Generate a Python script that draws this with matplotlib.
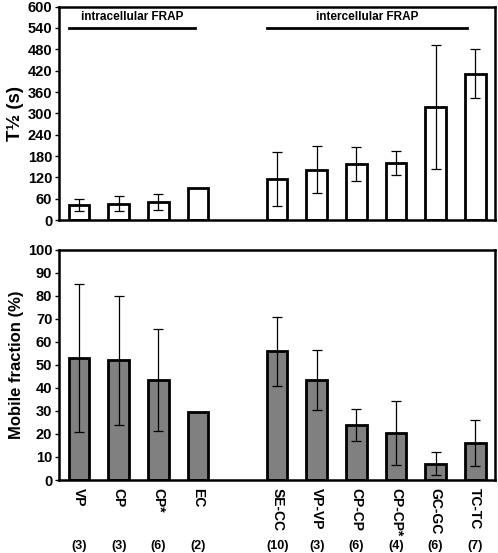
import matplotlib.pyplot as plt
import numpy as np

plt.rcParams['font.family'] = ['Liberation Sans', 'DejaVu Sans']
plt.rcParams['font.weight'] = 'bold'

# categories (slot 4 left empty between the two groups)
labels = ['VP', 'CP', 'CP*', 'EC', 'SE-CC', 'VP-VP', 'CP-CP', 'CP-CP*', 'GC-GC', 'TC-TC']
counts = ['(3)', '(3)', '(6)', '(2)', '(10)', '(3)', '(6)', '(4)', '(6)', '(7)']
pos = [0, 1, 2, 3, 5, 6, 7, 8, 9, 10]

# half time (s)
t_half = [43, 46, 50, 89, 115, 142, 157, 160, 317, 412]
t_half_err = [17, 21, 22, 0, 75, 67, 48, 34, 174, 70]

# mobile fraction (%)
mobile = [53, 52, 43.5, 29.4, 56, 43.5, 24, 20.5, 7, 16]
mobile_err = [32, 28, 22, 0, 15, 13, 7, 14, 5, 10]

fig = plt.figure(figsize=(4.98, 5.53), dpi=100)
ax1 = fig.add_axes([0.119, 0.602, 0.875, 0.386])
ax2 = fig.add_axes([0.119, 0.132, 0.875, 0.416])

bw = 0.52
err_kw = dict(ecolor='black', elinewidth=0.9, capsize=3.5, capthick=0.9)

yerr1 = [e if e > 0 else np.nan for e in t_half_err]
ax1.bar(pos, t_half, width=bw, color='white', edgecolor='black', linewidth=2,
        yerr=yerr1, error_kw=err_kw, zorder=2)
yerr2 = [e if e > 0 else np.nan for e in mobile_err]
ax2.bar(pos, mobile, width=bw, color='#808080', edgecolor='black', linewidth=2,
        yerr=yerr2, error_kw=err_kw, zorder=2)

for ax in (ax1, ax2):
    ax.set_xlim(-0.5, 10.5)
    for s in ax.spines.values():
        s.set_linewidth(1.8)
    ax.tick_params(axis='y', length=3, width=1, labelsize=10.5, pad=2)
    ax.tick_params(axis='x', length=0)

ax1.set_ylim(0, 600)
ax1.set_yticks(np.arange(0, 601, 60))
ax1.set_xticks([])
ax1.set_ylabel('T½ (s)', fontsize=13.5, fontweight='bold', labelpad=3)

# group annotations
ax1.plot([-0.25, 2.92], [540, 540], color='black', lw=2)
ax1.text(1.33, 553, 'intracellular FRAP', ha='center', va='bottom', fontsize=8.5, fontweight='bold')
ax1.plot([4.74, 9.79], [540, 540], color='black', lw=2)
ax1.text(7.27, 553, 'intercellular FRAP', ha='center', va='bottom', fontsize=8.5, fontweight='bold')

ax2.set_ylim(0, 100)
ax2.set_yticks(np.arange(0, 101, 10))
ax2.set_xticks(pos)
ax2.set_xticklabels(labels, rotation=270, fontsize=10, fontweight='bold', va='top')
ax2.tick_params(axis='x', pad=6)
ax2.set_ylabel('Mobile fraction (%)', fontsize=12, fontweight='bold', labelpad=3)

tr = ax2.get_xaxis_transform()
for p, c in zip(pos, counts):
    ax2.text(p, -0.287, c, transform=tr, ha='center', va='center', fontsize=9, fontweight='bold')

for t in ax1.get_yticklabels() + ax2.get_yticklabels():
    t.set_fontweight('bold')

fig.savefig('out.png', dpi=100)
